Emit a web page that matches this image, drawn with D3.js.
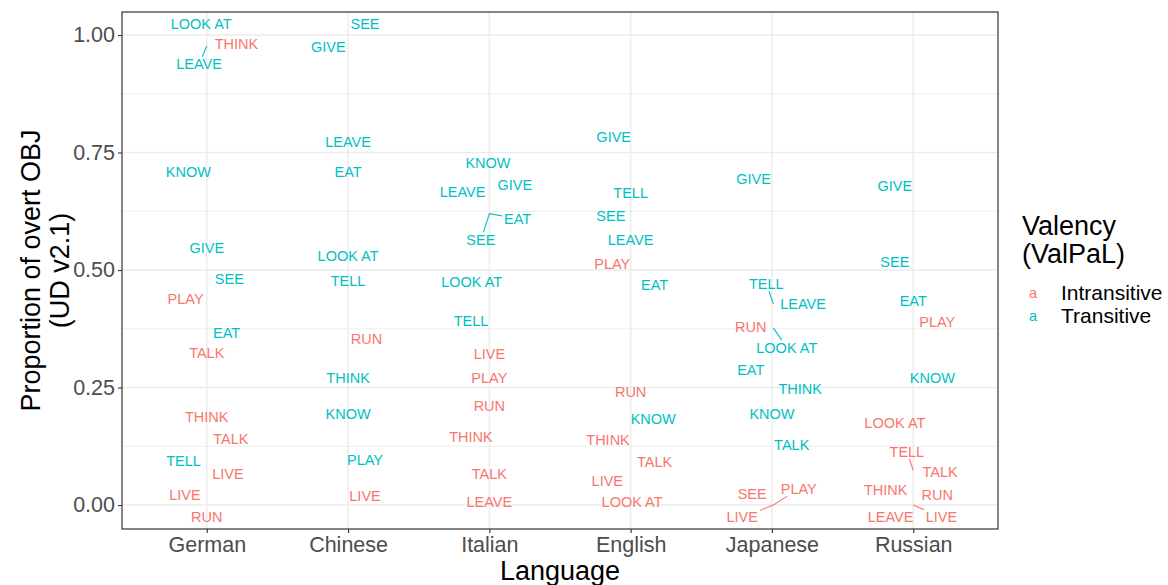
<!DOCTYPE html>
<html>
<head>
<meta charset="utf-8">
<script src="https://cdn.jsdelivr.net/npm/d3@7"></script>
<style>
  body { margin: 0; background: #fff; }
  svg { font-family: "Liberation Sans", Arial, sans-serif; display: block; }
</style>
</head>
<body>
<svg width="1168" height="585"></svg>
<script>
// languages on the x axis, in plot order
var languages = ["German", "Chinese", "Italian", "English", "Japanese", "Russian"];
var valencies = ["Intransitive", "Transitive"];
var yTicks = [0, 0.25, 0.5, 0.75, 1];

// [verb, valency (I/T), proportion of overt OBJ, horizontal jitter in category units]
var german = [
  ["LOOK AT", "T", 1.023, -0.04], ["THINK", "I", 0.982, 0.21], ["LEAVE", "T", 0.977, 0.0],
  ["KNOW", "T", 0.708, -0.13], ["GIVE", "T", 0.547, 0.0], ["SEE", "T", 0.481, 0.16],
  ["PLAY", "I", 0.438, -0.15], ["EAT", "T", 0.366, 0.14], ["TALK", "I", 0.323, 0.0],
  ["THINK", "I", 0.188, 0.0], ["TALK", "I", 0.141, 0.17], ["TELL", "T", 0.094, -0.165],
  ["LIVE", "I", 0.067, 0.15], ["LIVE", "I", 0.022, -0.155], ["RUN", "I", -0.026, 0.0]
];
var chinese = [
  ["SEE", "T", 1.023, 0.12], ["GIVE", "T", 0.975, -0.14], ["LEAVE", "T", 0.773, 0.0],
  ["EAT", "T", 0.709, 0.0], ["LOOK AT", "T", 0.530, 0.0], ["TELL", "T", 0.477, 0.0],
  ["RUN", "I", 0.353, 0.13], ["THINK", "T", 0.270, 0.0], ["KNOW", "T", 0.193, 0.0],
  ["PLAY", "T", 0.097, 0.12], ["LIVE", "I", 0.020, 0.12]
];
var italian = [
  ["KNOW", "T", 0.727, -0.01], ["GIVE", "T", 0.682, 0.18], ["LEAVE", "T", 0.667, -0.19],
  ["EAT", "T", 0.620, 0.0], ["SEE", "T", 0.620, 0.0], ["LOOK AT", "T", 0.475, -0.125],
  ["TELL", "T", 0.392, -0.13], ["LIVE", "I", 0.321, 0.0], ["PLAY", "I", 0.271, 0.0],
  ["RUN", "I", 0.211, 0.0], ["THINK", "I", 0.145, -0.13], ["TALK", "I", 0.067, 0.0],
  ["LEAVE", "I", 0.006, 0.0]
];
var english = [
  ["GIVE", "T", 0.784, -0.12], ["TELL", "T", 0.665, 0.0], ["SEE", "T", 0.616, -0.14],
  ["LEAVE", "T", 0.563, 0.0], ["PLAY", "I", 0.513, -0.13], ["EAT", "T", 0.469, 0.17],
  ["RUN", "I", 0.241, 0.0], ["KNOW", "T", 0.184, 0.16], ["THINK", "I", 0.138, -0.16],
  ["TALK", "I", 0.092, 0.17], ["LIVE", "I", 0.052, -0.165], ["LOOK AT", "I", 0.007, 0.01]
];
var japanese = [
  ["GIVE", "T", 0.694, -0.13], ["TELL", "T", 0.428, 0.01], ["LEAVE", "T", 0.427, 0.22],
  ["RUN", "I", 0.379, -0.15], ["LOOK AT", "T", 0.377, 0.01], ["EAT", "T", 0.287, -0.15],
  ["THINK", "T", 0.247, 0.2], ["KNOW", "T", 0.193, 0.0], ["TALK", "T", 0.127, 0.14],
  ["SEE", "I", 0.024, -0.14], ["PLAY", "I", 0.0, 0.01], ["LIVE", "I", 0.0, 0.01]
];
var russian = [
  ["GIVE", "T", 0.679, -0.13], ["SEE", "T", 0.518, -0.13], ["EAT", "T", 0.434, 0.0],
  ["PLAY", "I", 0.390, 0.17], ["KNOW", "T", 0.271, 0.135], ["LOOK AT", "I", 0.175, -0.13],
  ["TELL", "I", 0.074, 0.0], ["TALK", "I", 0.070, 0.19], ["THINK", "I", 0.033, -0.195],
  ["RUN", "I", 0.021, 0.17], ["LEAVE", "I", -0.026, -0.16], ["LIVE", "I", 0.0, 0.0]
];

// labels pushed away from their point (repel), with a leader line:
// [language, verb, valency, label proportion, label jitter]
var repelled = [
  ["German", "LEAVE", "T", 0.938, -0.055],
  ["Italian", "EAT", "T", 0.609, 0.2],
  ["Italian", "SEE", "T", 0.565, -0.06],
  ["Japanese", "TELL", "T", 0.471, -0.04],
  ["Japanese", "LOOK AT", "T", 0.335, 0.105],
  ["Japanese", "PLAY", "I", 0.035, 0.19],
  ["Japanese", "LIVE", "I", -0.026, -0.21],
  ["Russian", "TELL", "I", 0.114, -0.045],
  ["Russian", "LIVE", "I", -0.026, 0.2]
];

var byLanguage = [german, chinese, italian, english, japanese, russian];

var svg = d3.select("svg"),
    margin = {top: 12, right: 170, bottom: 56, left: 122},
    width = svg.attr("width") - margin.left - margin.right,
    height = svg.attr("height") - margin.top - margin.bottom,
    g = svg.append("g").attr("transform", "translate(" + margin.left + "," + margin.top + ")");

var x = d3.scalePoint().domain(languages).range([0, width]).padding(0.6),
    y = d3.scaleLinear().domain([-0.051, 1.049]).range([height, 0]),
    z = d3.scaleOrdinal().domain(["I", "T"]).range(["#F8766D", "#00BFC4"]);

var step = x.step();

var data = [];
byLanguage.forEach(function(rows, i) {
  rows.forEach(function(r) {
    var d = {language: languages[i], verb: r[0], valency: r[1], value: r[2], jitter: r[3]};
    var rep = repelled.find(function(p) { return p[0] === d.language && p[1] === d.verb && p[2] === d.valency; });
    d.labelValue = rep ? rep[3] : d.value;
    d.labelJitter = rep ? rep[4] : d.jitter;
    d.leader = !!rep;
    data.push(d);
  });
});

// grid
var minor = [0.125, 0.375, 0.625, 0.875];
g.selectAll(".minor").data(minor).enter().append("line")
  .attr("x1", 0).attr("x2", width)
  .attr("y1", function(d) { return y(d); }).attr("y2", function(d) { return y(d); })
  .attr("stroke", "#EBEBEB").attr("stroke-width", 0.8);
g.selectAll(".hmajor").data(yTicks).enter().append("line")
  .attr("x1", 0).attr("x2", width)
  .attr("y1", function(d) { return y(d); }).attr("y2", function(d) { return y(d); })
  .attr("stroke", "#EBEBEB").attr("stroke-width", 1.4);
g.selectAll(".vmajor").data(languages).enter().append("line")
  .attr("y1", 0).attr("y2", height)
  .attr("x1", function(d) { return x(d); }).attr("x2", function(d) { return x(d); })
  .attr("stroke", "#EBEBEB").attr("stroke-width", 1.4);

// axes
var xAxis = g.append("g")
  .attr("transform", "translate(0," + height + ")")
  .call(d3.axisBottom(x).tickSize(4).tickPadding(4));
var yAxis = g.append("g")
  .call(d3.axisLeft(y).tickValues(yTicks).tickFormat(d3.format(".2f")).tickSize(4).tickPadding(3));
[xAxis, yAxis].forEach(function(a) {
  a.select(".domain").remove();
  a.selectAll(".tick line").attr("stroke", "#333333").attr("stroke-width", 1.1);
  a.selectAll(".tick text").attr("fill", "#4D4D4D").style("font-size", "21.5px");
});

// labels
var labels = g.selectAll(".label")
  .data(data)
  .enter().append("text")
  .attr("class", "label")
  .attr("x", function(d) { return x(d.language) + d.labelJitter * step; })
  .attr("y", function(d) { return y(d.labelValue); })
  .attr("dy", "0.35em")
  .attr("text-anchor", "middle")
  .style("font-size", "14.5px")
  .attr("fill", function(d) { return z(d.valency); })
  .text(function(d) { return d.verb; });

// leader segments, from the point to the edge of its label box
labels.filter(function(d) { return d.leader; }).each(function(d) {
  var b = this.getBBox(), pad = 1.5;
  var px = x(d.language) + d.jitter * step, py = y(d.value);
  var cx = b.x + b.width / 2, cy = b.y + b.height / 2;
  var hw = b.width / 2 + pad, hh = b.height / 2 + pad - 2;
  var dx = cx - px, dyy = cy - py;
  var t = Math.min(
    dx !== 0 ? (Math.abs(dx) - hw) / Math.abs(dx) : Infinity,
    dyy !== 0 ? (Math.abs(dyy) - hh) / Math.abs(dyy) : Infinity);
  var tx = Math.max(Math.abs(dx) > hw ? (Math.abs(dx) - hw) / Math.abs(dx) : 0,
                    Math.abs(dyy) > hh ? (Math.abs(dyy) - hh) / Math.abs(dyy) : 0);
  g.insert("line", ".label")
    .attr("x1", px).attr("y1", py)
    .attr("x2", px + dx * tx).attr("y2", py + dyy * tx)
    .attr("stroke", z(d.valency)).attr("stroke-width", 1.1);
});

// panel border
g.append("rect")
  .attr("width", width).attr("height", height)
  .attr("fill", "none").attr("stroke", "#333333").attr("stroke-width", 1.2);

// axis titles
svg.append("text")
  .attr("x", margin.left + width / 2).attr("y", 580)
  .attr("text-anchor", "middle")
  .style("font-size", "27px")
  .text("Language");

var yt = svg.append("text")
  .attr("transform", "translate(45," + (margin.top + height / 2) + ") rotate(-90)")
  .attr("text-anchor", "middle")
  .style("font-size", "27px");
yt.append("tspan").attr("x", 0).attr("y", -14.5).attr("dy", "0.35em").text("Proportion of overt OBJ");
yt.append("tspan").attr("x", 0).attr("y", 14.5).attr("dy", "0.35em").text("(UD v2.1)");

// legend
var legend = svg.append("g").attr("transform", "translate(1022,0)");
legend.append("text").attr("y", 235).style("font-size", "27px").text("Valency");
legend.append("text").attr("y", 263).style("font-size", "27px").text("(ValPaL)");
var item = legend.selectAll(".item")
  .data(valencies)
  .enter().append("g")
  .attr("transform", function(d, i) { return "translate(0," + (293 + i * 22.5) + ")"; });
item.append("text")
  .attr("x", 11).attr("dy", "0.35em")
  .attr("text-anchor", "middle")
  .style("font-size", "14.5px")
  .attr("fill", function(d) { return z(d.charAt(0)); })
  .text("a");
item.append("text")
  .attr("x", 39).attr("dy", "0.35em")
  .style("font-size", "21px")
  .text(function(d) { return d; });
</script>
</body>
</html>
